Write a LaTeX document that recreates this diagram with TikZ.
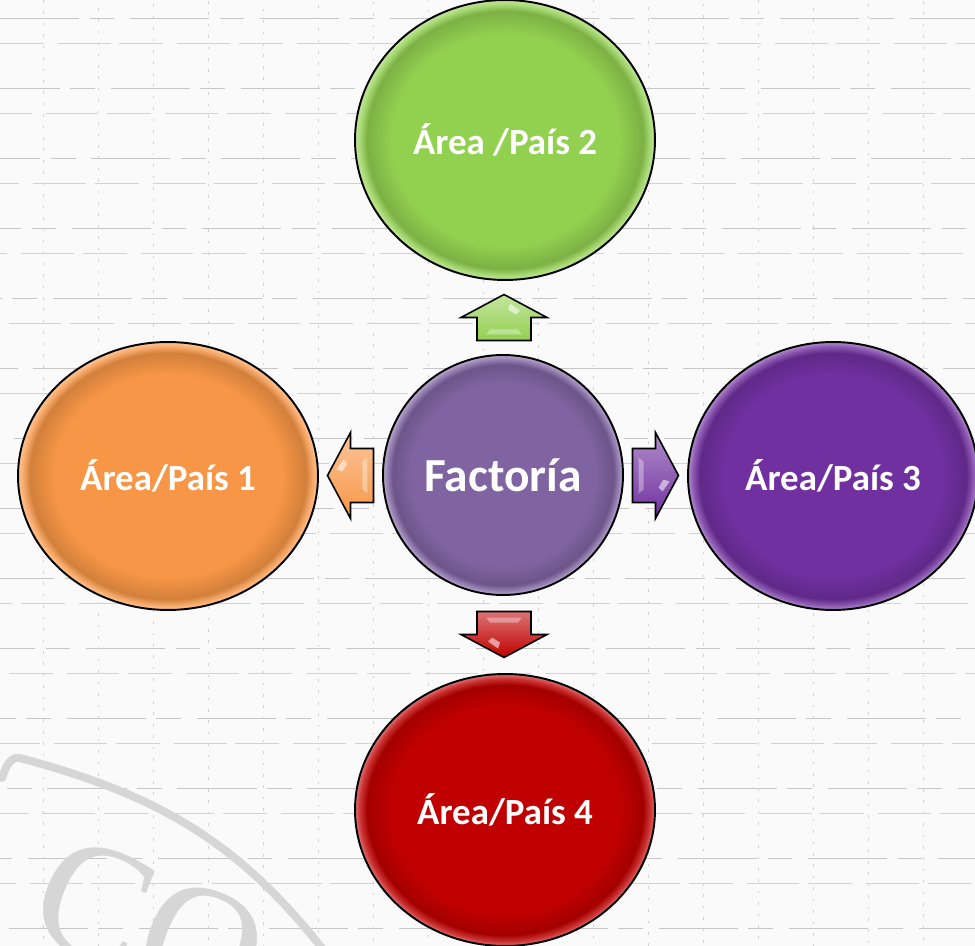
\documentclass[tikz,border=0pt]{standalone}
\usepackage{fontspec}
\setmainfont{Carlito}
\newfontfamily\wmfont{Liberation Serif}
\usetikzlibrary{calc,shapes.geometric}

\definecolor{paisorange}{HTML}{F79646}
\definecolor{paisgreen}{HTML}{92D050}
\definecolor{paispurple}{HTML}{7030A0}
\definecolor{factpurple}{HTML}{8064A2}
\definecolor{paisred}{HTML}{C00000}
\colorlet{gelc}{paisorange}

% edge of the path lies at 25bp
\pgfdeclareradialshading[gelc]{gelball}{\pgfpoint{0bp}{0bp}}{%
  color(0bp)=(gelc); color(19bp)=(gelc); color(23bp)=(gelc!85!black);
  color(24.2bp)=(gelc!80!white); color(25bp)=(gelc!55!white); color(50bp)=(gelc!55!white)}

\tikzset{
  blkarrow/.pic={
    \draw[line width=0.9pt, line join=miter, top color=#1!55!white, bottom color=#1]
      (0,-23) -- (43,0) -- (27,0) -- (27,23) -- (-27,23) -- (-27,0) -- (-43,0) -- cycle;
    \fill[white, opacity=0.55] (6,-14) -- (16,-7) -- (12,-3) -- (4,-8) -- cycle;
    \fill[white, opacity=0.35] (-18,17) -- (18,17) -- (14,12) -- (-14,12) -- cycle;
  }
}

\begin{document}
\begin{tikzpicture}[
    x=0.02cm, y=-0.02cm,
    pais/.style={
        ellipse,
        draw=black,
        line width=1.1pt,
        inner sep=0pt,
        text=white,
        font=\bfseries\fontsize{21}{25}\selectfont,
        gel=#1
    },
    gel/.code={\colorlet{gelc}{#1}\tikzset{shading=gelball}},
    bgline/.style={gray!45, line width=0.4pt}
]

% background
\useasboundingbox (0,0) rectangle (975,946);
\fill[gray!4] (0,0) rectangle (975,946);
\begin{scope}
\clip (0,0) rectangle (975,946);
\foreach \k in {0,...,13} {
    \draw[bgline, dash pattern=on 45pt off 6pt on 14pt off 9pt, dash phase=\k*11pt]
        (0,18+70*\k) -- (975,18+70*\k);
    \draw[bgline, gray!35, dash pattern=on 25pt off 8pt on 30pt off 5pt, dash phase=\k*7pt]
        (0,43+70*\k) -- (975,43+70*\k);
}
\foreach \k in {0,...,17} {
    \draw[bgline, gray!35, dash pattern=on 1.5pt off 5pt, dash phase=\k*2pt]
        (43+55*\k,0) -- (43+55*\k,946);
}
% watermark
\draw[gray!32, line width=0.16cm, line cap=round]
    (2,778) to[out=70, in=170] (20,758) to[out=-15, in=128] (325,952);
\node[gray!32, rotate=-22, font=\wmfont\fontsize{95}{95}\selectfont] (wm) at (150,925) {CO};
\end{scope}

% centre
\node[pais=factpurple, minimum width=4.8cm, minimum height=4.8cm,
      font=\bfseries\fontsize{27}{32}\selectfont] (fact) at (503,475) {Factoría};

% areas
\node[pais=paisgreen, minimum width=6cm, minimum height=5.6cm] (pais2) at (505,140) {Área /País 2};
\node[pais=paisorange, minimum width=6cm, minimum height=5.36cm] (pais1) at (168,476) {Área/País 1};
\node[pais=paispurple, minimum width=5.8cm, minimum height=5.36cm] (pais3) at (833,476) {Área/País 3};
\node[pais=paisred, minimum width=6cm, minimum height=5.44cm] (pais4) at (505,810) {Área/País 4};

% arrows
\pic at ($(fact.north)!0.5!(pais2.south)$) {blkarrow=paisgreen};
\pic[rotate=90] at ($(fact.west)!0.5!(pais1.east)$) {blkarrow=paisorange};
\pic[rotate=-90] at ($(fact.east)!0.5!(pais3.west)$) {blkarrow=paispurple};
\pic[rotate=180] at ($(fact.south)!0.5!(pais4.north)$) {blkarrow=paisred};

\end{tikzpicture}
\end{document}
